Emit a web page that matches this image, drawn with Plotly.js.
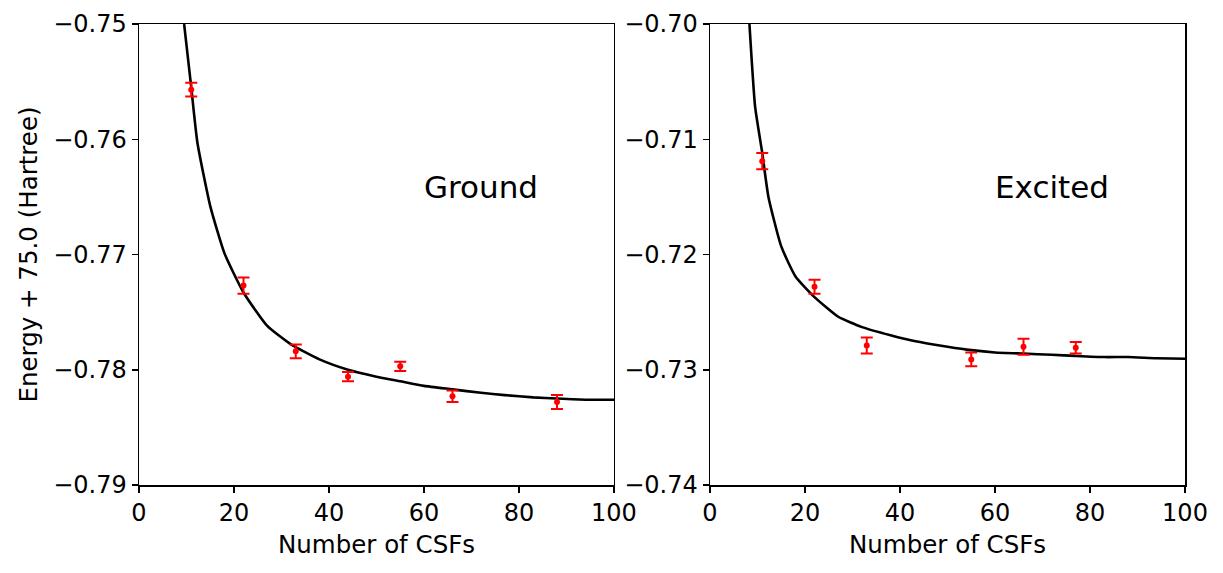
<!DOCTYPE html>
<html>
<head>
<meta charset="utf-8">
<script src="https://cdn.plot.ly/plotly-3.0.1.min.js"></script>
<style>html,body{margin:0;padding:0;background:#fff;}#chart{width:1223px;height:573px;}</style>
</head>
<body>
<div id="chart"></div>
<script>
// Ground state data
const groundN = [11, 22, 33, 44, 55, 66, 88];
const groundE = [-0.7557, -0.7727, -0.7784, -0.7806, -0.7797, -0.7823, -0.7828];
const groundErr = [0.0006, 0.0007, 0.0006, 0.0004, 0.0004, 0.0005, 0.0006];
const groundFitN = [9.5, 11, 12.3, 15, 18, 22, 27, 32, 38, 44, 50, 55, 60, 66, 72, 77, 83, 88, 94, 100];
const groundFitE = [-0.75, -0.7555, -0.7603, -0.7658, -0.7699, -0.7733, -0.7762, -0.7778, -0.7791, -0.7800, -0.7806, -0.7810, -0.7814, -0.7817, -0.7820, -0.7822, -0.7824, -0.7825, -0.7826, -0.7826];

// Excited state data
const excitedN = [11, 22, 33, 55, 66, 77];
const excitedE = [-0.7119, -0.7228, -0.7279, -0.7291, -0.7280, -0.7281];
const excitedErr = [0.0007, 0.0006, 0.0007, 0.0006, 0.0007, 0.0005];
const excitedFitN = [8.3, 9.5, 11, 12.3, 15, 18, 22, 27, 32, 38, 43, 50, 55, 60, 66, 72, 77, 83, 88, 94, 100];
const excitedFitE = [-0.70, -0.7072, -0.7112, -0.7150, -0.7193, -0.7219, -0.7237, -0.7254, -0.7263, -0.7270, -0.7275, -0.7280, -0.7283, -0.7285, -0.7286, -0.7287, -0.7288, -0.7289, -0.7289, -0.7290, -0.72905];

const xTicks = [0, 20, 40, 60, 80, 100];
const groundYTicks = [-0.79, -0.78, -0.77, -0.76, -0.75];
const excitedYTicks = [-0.74, -0.73, -0.72, -0.71, -0.70];
const xLabel = "Number of CSFs";
const yLabel = "Energy + 75.0 (Hartree)";
const panelLabels = ["Ground", "Excited"];

const FONT = "DejaVu Sans, sans-serif";
const FS = 24;
const FT = 24.5;

function fitTrace(x, y, xa, ya) {
  return {x: x, y: y, xaxis: xa, yaxis: ya, mode: 'lines', type: 'scatter',
    line: {color: '#000', width: 2.6, shape: 'spline', smoothing: 0.5}, hoverinfo: 'skip', showlegend: false};
}
function dataTrace(x, y, e, xa, ya) {
  return {x: x, y: y, xaxis: xa, yaxis: ya, mode: 'markers', type: 'scatter',
    marker: {color: '#ff0000', size: 6},
    error_y: {type: 'data', array: e, visible: true, color: '#ff0000', thickness: 2, width: 6},
    showlegend: false};
}

const traces = [
  fitTrace(groundFitN, groundFitE, 'x', 'y'),
  dataTrace(groundN, groundE, groundErr, 'x', 'y'),
  fitTrace(excitedFitN, excitedFitE, 'x2', 'y2'),
  dataTrace(excitedN, excitedE, excitedErr, 'x2', 'y2')
];

function xAxis(domain, anchor) {
  return {domain: domain, anchor: anchor, range: [0, 100], tickvals: xTicks, ticktext: xTicks.map(String),
    ticks: 'outside', ticklen: 6, tickwidth: 1.5, tickcolor: '#000',
    showline: true, linecolor: '#000', linewidth: 1.5, mirror: true, showgrid: false, zeroline: false,
    tickfont: {family: FONT, size: FS, color: '#000'},
    title: {text: xLabel, font: {family: FONT, size: FT, color: '#000'}, standoff: 9}};
}
function yAxis(range, tv, anchor, title) {
  const ax = {domain: [0, 1], anchor: anchor, range: range, tickvals: tv, tickformat: '.2f',
    ticks: 'outside', ticklen: 6, tickwidth: 1.5, tickcolor: '#000',
    showline: true, linecolor: '#000', linewidth: 1.5, mirror: true, showgrid: false, zeroline: false,
    tickfont: {family: FONT, size: FS, color: '#000'}};
  if (title) ax.title = {text: title, font: {family: FONT, size: FT, color: '#000'}, standoff: 8};
  return ax;
}

const layout = {
  width: 1223, height: 573,
  margin: {l: 139, r: 38, t: 24, b: 88},
  paper_bgcolor: '#fff', plot_bgcolor: '#fff',
  xaxis: xAxis([0, 0.4541], 'y'),
  yaxis: yAxis([-0.79, -0.75], groundYTicks, 'x', yLabel),
  xaxis2: xAxis([0.5459, 1], 'y2'),
  yaxis2: yAxis([-0.74, -0.70], excitedYTicks, 'x2', null),
  annotations: [
    {x: 72.1, y: -0.7641, xref: 'x', yref: 'y', text: panelLabels[0], showarrow: false,
     font: {family: FONT, size: 31, color: '#000'}},
    {x: 72, y: -0.7141, xref: 'x2', yref: 'y2', text: panelLabels[1], showarrow: false,
     font: {family: FONT, size: 31, color: '#000'}}
  ],
  showlegend: false
};

Plotly.newPlot('chart', traces, layout, {staticPlot: true, displayModeBar: false});
</script>
</body>
</html>
